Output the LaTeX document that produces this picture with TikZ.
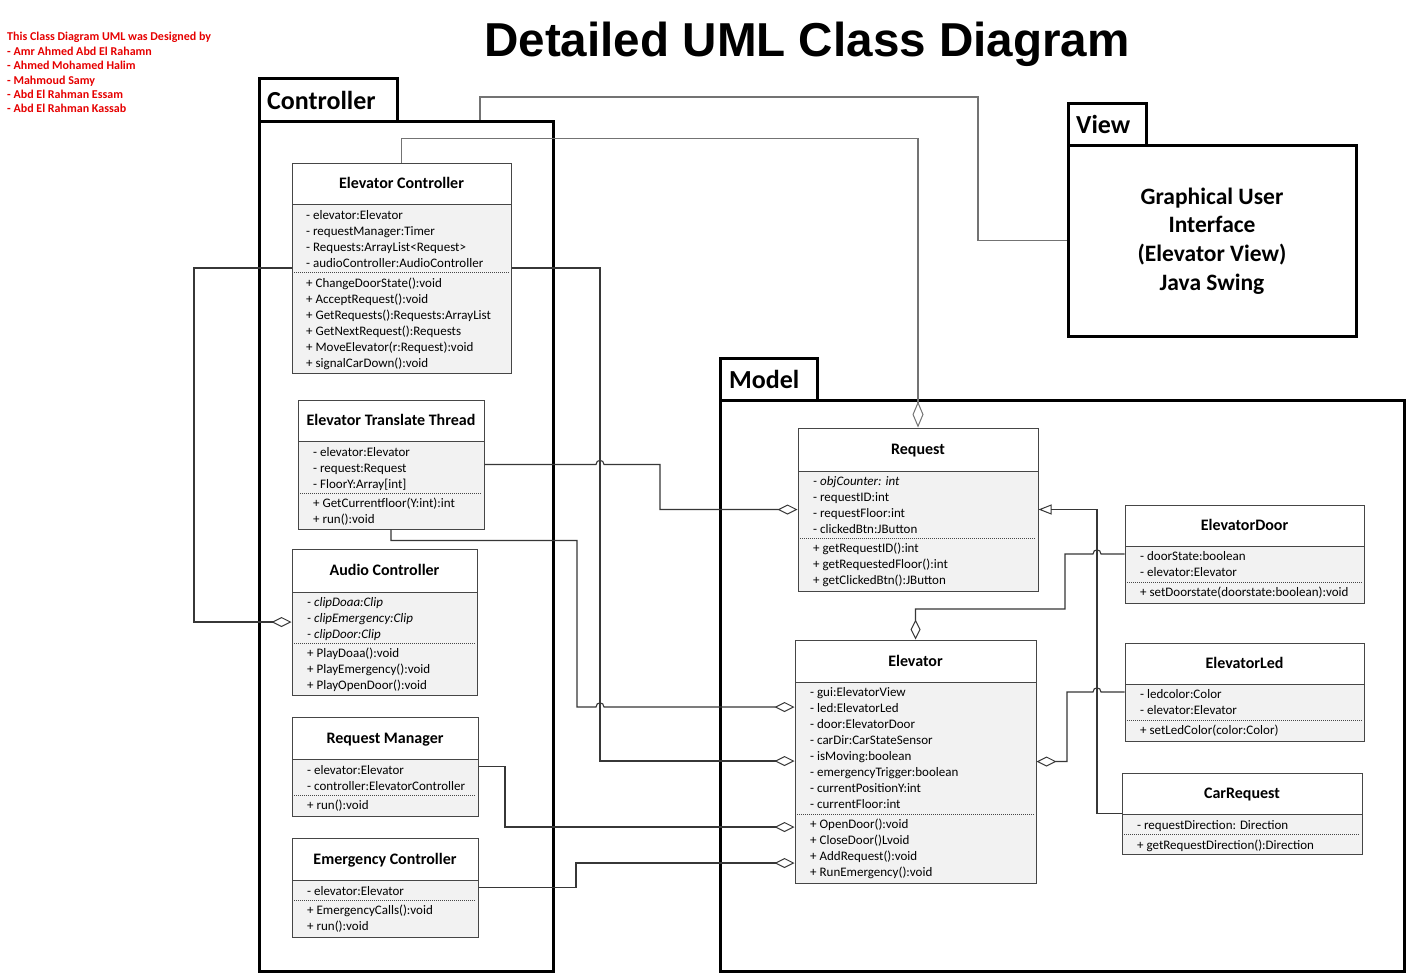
\documentclass[tikz,border=0pt]{standalone}
\usepackage{fontspec}
\setmainfont{Carlito}
\newfontfamily\titlefont{Liberation Sans}
\usetikzlibrary{arrows.meta,fit}
\definecolor{boxline}{RGB}{70,70,70}
\definecolor{bodyfill}{RGB}{242,242,242}
\definecolor{connc}{RGB}{55,55,55}
\definecolor{connlight}{RGB}{115,115,115}
\definecolor{authred}{RGB}{230,0,0}
\definecolor{dotc}{RGB}{70,70,70}
\tikzset{
 classbox/.style={draw=boxline, line width=1pt, inner sep=0pt},
 classtitle/.style={font=\fontsize{16}{19}\selectfont\bfseries, inner sep=0pt, text height=10.3pt, text depth=0pt},
 member/.style={font=\fontsize{13}{15}\selectfont, inner sep=0pt},
 sepline/.style={draw=boxline, line width=0.8pt},
 dotline/.style={draw=dotc, line width=0.8pt, dash pattern=on 1pt off 1pt},
 pkg/.style={draw=black, line width=3pt, inner sep=0pt},
 pkglabel/.style={font=\fontsize{26}{30}\selectfont\bfseries, inner sep=0pt, anchor=base west},
 conn/.style={draw=connc, line width=1.1pt},
 connlt/.style={draw=connlight, line width=1.3pt},
 agg/.style={-{Diamond[open,length=20pt,width=10pt,line width=1pt]}},
 aggbig/.style={-{Diamond[open,length=26pt,width=11pt,line width=1pt]}},
 gen/.style={-{Triangle[open,length=13pt,width=10pt,line width=1pt]}},
}
\newcommand{\umlclass}[8]{%
 \fill[white] (#2,#3) rectangle (#4,#6);
 \fill[bodyfill] (#2,#6) rectangle (#4,#5);
 \draw[sepline] (#2,#6) -- (#4,#6);
 \draw[dotline] (#2+2,#7) -- (#4-2,#7);
 \node[classbox, fit={(#2,#3) (#4,#5)}] (#1) {};
 \node[classtitle] (#1-t) at ({(#2+#4)/2},{(#3+#6)/2}) {#8};
}
\newcommand{\umllines}[4]{%
 \foreach \mtext [count=\mi] in {#4} {
   \node[member, anchor=base west] (#1\mi) at (#2,{#3+16*(\mi-1)}) {\mtext};
 }
}
\begin{document}
\begin{tikzpicture}[x=1pt,y=-1pt]
\fill[white] (0,0) rectangle (1406,974);
\useasboundingbox (0,0) rectangle (1406,974);

% title
\node[anchor=base, inner sep=0pt, font=\titlefont\fontsize{47.6}{55}\selectfont\bfseries] (title) at (807,57) {Detailed UML Class Diagram};

% authors
\foreach \ln [count=\li] in {This Class Diagram UML was Designed by, - Amr Ahmed  Abd El Rahamn, - Ahmed  Mohamed Halim, - Mahmoud Samy, - Abd El Rahman Essam, - Abd El Rahman Kassab} {
  \node[anchor=base west, inner sep=0pt, text=authred, font=\fontsize{12}{13}\selectfont\bfseries] (auth\li) at (7,{41+14.4*(\li-1)}) {\ln};
}

% packages
\node[pkg, fit={(259,121) (553,971)}] (ctrl) {};
\node[pkg, fit={(259,79) (397,121)}] (ctrltab) {};
\node[pkglabel] (ctrllbl) at (267,109) {Controller};

\node[pkg, fit={(720,400) (1404,971)}] (model) {};
\node[pkg, fit={(720,358) (817,400)}] (modeltab) {};
\node[pkglabel] (modellbl) at (729,388) {Model};

\node[pkg, fit={(1068,145) (1356,336)}] (view) {};
\node[pkg, fit={(1068,103) (1146,145)}] (viewtab) {};
\node[pkglabel] (viewlbl) at (1076,133) {View};
\node[align=center, inner sep=0pt, font=\fontsize{23.5}{28.7}\selectfont\bfseries] (viewtext) at (1212,241) {Graphical User\\Interface\\(Elevator View)\\Java Swing};

% classes
\umlclass{ec}{292}{163}{511}{373}{204}{272}{Elevator Controller}
\umllines{eca}{306}{219}{- elevator:Elevator, - requestManager:Timer, - Requests:ArrayList<Request>, - audioController:AudioController}
\umllines{ecm}{306}{287}{+ ChangeDoorState():void, + AcceptRequest():void, + GetRequests():Requests:ArrayList, + GetNextRequest():Requests, + MoveElevator(r:Request):void, + signalCarDown():void}

\umlclass{ett}{298}{400}{484}{529}{441}{493}{Elevator Translate Thread}
\umllines{etta}{313}{456}{- elevator:Elevator, - request:Request, {- FloorY:Array[int]}}
\umllines{ettm}{313}{507}{+ GetCurrentfloor(Y:int):int, + run():void}

\umlclass{ac}{292}{549}{477}{695}{592}{643}{Audio Controller}
\umllines{aca}{307}{606}{{\itshape - clipDoaa:Clip}, {\itshape - clipEmergency:Clip}, {\itshape - clipDoor:Clip}}
\umllines{acm}{307}{657}{+ PlayDoaa():void, + PlayEmergency():void, + PlayOpenDoor():void}

\umlclass{rm}{292}{717}{478}{816}{759}{795}{Request Manager}
\umllines{rma}{307}{774}{- elevator:Elevator, - controller:ElevatorController}
\umllines{rmm}{307}{809}{+ run():void}

\umlclass{emc}{292}{838}{478}{937}{880}{900}{Emergency Controller}
\umllines{emca}{307}{895}{- elevator:Elevator}
\umllines{emcm}{307}{914}{+ EmergencyCalls():void, + run():void}

\umlclass{req}{798}{428}{1038}{591}{471}{538}{Request}
\umllines{reqa}{813}{485}{{\itshape - objCounter: int}, - requestID:int, - requestFloor:int, - clickedBtn:JButton}
\umllines{reqm}{813}{552}{+ getRequestID():int, + getRequestedFloor():int, + getClickedBtn():JButton}

\umlclass{elev}{795}{640}{1036}{883}{682}{814}{Elevator}
\umllines{eleva}{810}{696}{- gui:ElevatorView, - led:ElevatorLed, - door:ElevatorDoor, - carDir:CarStateSensor, - isMoving:boolean, - emergencyTrigger:boolean, - currentPositionY:int, - currentFloor:int}
\umllines{elevm}{810}{828}{+ OpenDoor():void, + CloseDoor()Lvoid, + AddRequest():void, + RunEmergency():void}

\umlclass{door}{1125}{505}{1364}{603}{546}{582}{ElevatorDoor}
\umllines{doora}{1140}{560}{- doorState:boolean, - elevator:Elevator}
\umllines{doorm}{1140}{596}{+ setDoorstate(doorstate:boolean):void}

\umlclass{led}{1125}{643}{1364}{741}{684}{720}{ElevatorLed}
\umllines{leda}{1140}{698}{- ledcolor:Color, - elevator:Elevator}
\umllines{ledm}{1140}{734}{+ setLedColor(color:Color)}

\umlclass{carreq}{1122}{773}{1362}{854}{814}{834}{CarRequest}
\umllines{carreqa}{1137}{829}{- requestDirection: Direction}
\umllines{carreqm}{1137}{849}{+ getRequestDirection():Direction}

% connectors
\draw[connlt, aggbig] (ec.north) -- ++(0,-24) -| (req.north);
\draw[connlt] (ctrl.north -| 480,0) |- (978,97) |- (view.west);
\draw[conn, agg] (ec.west |- 0,268) -| (194,622) -- (ac.west);
\draw[conn, agg] (ec.east |- 0,268) -| (600,761) -- (elev.west |- 0,761);
\draw[conn, agg] (ett.east) -- (596,464.5) .. controls (596,459) and (604,459) .. (604,464.5) -- (660,464.5) |- (req.west);
\draw[conn, agg] (ett.south) -- ++(0,11) -| (577,707) -- (596,707) .. controls (596,701.5) and (604,701.5) .. (604,707) -- (elev.west |- 0,707);
\draw[conn, agg] (rm.east) -| (505,827) -- (elev.west |- 0,827);
\draw[conn, agg] (emc.east) -| (576,863) -- (elev.west |- 0,863);
\draw[conn, agg] (door.west) -- (1101,554) .. controls (1101,548.5) and (1093,548.5) .. (1093,554) -- (1065,554) |- (elev.north |- 0,609) -- (elev.north);
\draw[conn, agg] (led.west) -- (1101,692) .. controls (1101,686.5) and (1093,686.5) .. (1093,692) -- (1067,692) |- (elev.east);
\draw[conn, gen] (carreq.west) -| (1097,509.5) -- (req.east);
\end{tikzpicture}
\end{document}
